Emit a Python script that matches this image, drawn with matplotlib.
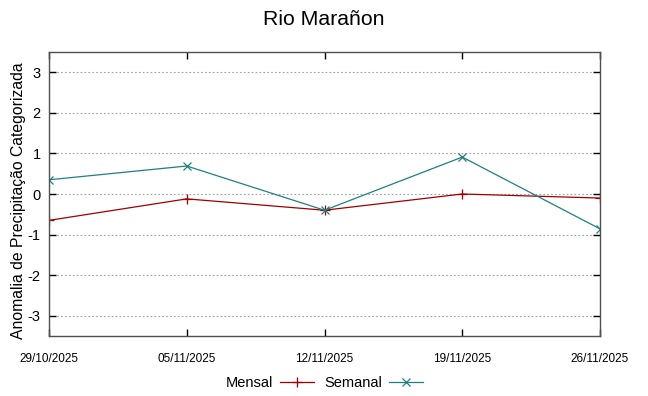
import matplotlib
matplotlib.use('Agg')
import matplotlib.pyplot as plt
import matplotlib.dates as mdates
import pandas as pd

plt.rcParams['font.family'] = ['Liberation Sans', 'DejaVu Sans']
plt.rcParams['axes.unicode_minus'] = False

# weekly dates and anomaly values
dates = pd.to_datetime(['2025-10-29', '2025-11-05', '2025-11-12', '2025-11-19', '2025-11-26'])
mensal = [-0.65, -0.12, -0.40, 0.00, -0.10]
semanal = [0.35, 0.69, -0.40, 0.91, -0.86]
y_ticks = [-3, -2, -1, 0, 1, 2, 3]

fig = plt.figure(figsize=(6.48, 3.96), dpi=100)
ax = fig.add_axes([0.0756, 0.1515, 0.8504, 0.7172])

ax.plot(dates, mensal, color='#a00000', linewidth=0.9, marker='+',
        markersize=7, markeredgewidth=0.9, label='Mensal')
ax.plot(dates, semanal, color='#208080', linewidth=0.9, marker='x',
        markersize=5.5, markeredgewidth=0.9, label='Semanal')

ax.set_xlim(dates[0], dates[-1])
ax.set_ylim(-3.5, 3.5)
ax.set_yticks(y_ticks)
ax.set_xticks(dates)
ax.xaxis.set_major_formatter(mdates.DateFormatter('%d/%m/%Y'))

ax.tick_params(axis='both', direction='in', top=True, right=True, length=5, width=1)
ax.tick_params(axis='y', labelsize=10.5, pad=6)
ax.tick_params(axis='x', labelsize=8.5, pad=12)
ax.grid(True, axis='y', color='#a0a0a0', linestyle=(0, (1.5, 2)), linewidth=0.8)
for s in ax.spines.values():
    s.set_color('#505050')
    s.set_linewidth(1)

ax.set_ylabel('Anomalia de Precipitação Categorizada', fontsize=11.3)
ax.yaxis.set_label_coords(-0.041, 0.475)
fig.suptitle('Rio Marañon', fontsize=15.3, y=0.975)

fig.legend(loc='center', bbox_to_anchor=(0.5, 0.033), ncol=2, frameon=False,
           markerfirst=False, fontsize=10.5, handlelength=2.3, columnspacing=0.7,
           handletextpad=0.5)

fig.savefig('out.png', dpi=100)
